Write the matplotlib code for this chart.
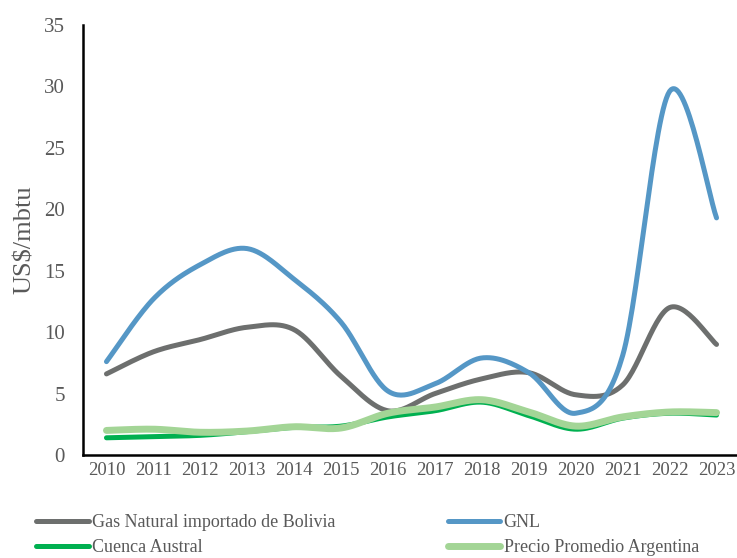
import numpy as np
import matplotlib
matplotlib.use("Agg")
import matplotlib.pyplot as plt

years = ["2010", "2011", "2012", "2013", "2014", "2015", "2016",
         "2017", "2018", "2019", "2020", "2021", "2022", "2023"]
bolivia = [6.6, 8.4, 9.4, 10.4, 10.2, 6.4, 3.6, 5.0, 6.2, 6.7, 4.9, 5.7, 12.0, 9.0]
gnl = [7.6, 12.7, 15.5, 16.8, 14.3, 10.8, 5.2, 5.8, 7.9, 6.7, 3.4, 8.1, 29.6, 19.3]
austral = [1.4, 1.5, 1.6, 1.9, 2.25, 2.35, 3.1, 3.6, 4.3, 3.2, 2.1, 3.0, 3.4, 3.25]
promedio = [2.0, 2.1, 1.85, 1.95, 2.3, 2.2, 3.4, 3.9, 4.5, 3.5, 2.35, 3.1, 3.5, 3.45]
yticks = [0, 5, 10, 15, 20, 25, 30, 35]

labels = ["Gas Natural importado de Bolivia", "GNL", "Cuenca Austral",
          "Precio Promedio Argentina"]
colors = ["#6d6f6e", "#5597c6", "#00b050", "#a3d596"]
widths = [3.6, 3.6, 3.6, 5.0]


def smooth(y, n=30):
    """Excel-like smoothed line (Catmull-Rom Bezier)."""
    x = np.arange(len(y), dtype=float)
    y = np.asarray(y, dtype=float)
    P = np.column_stack([x, y])
    out = []
    t = np.linspace(0, 1, n)[:, None]
    for i in range(len(P) - 1):
        p0 = P[i - 1] if i > 0 else P[i]
        p1 = P[i]
        p2 = P[i + 1]
        p3 = P[i + 2] if i + 2 < len(P) else P[i + 1]
        c1 = p1 + (p2 - p0) / 6.0
        c2 = p2 - (p3 - p1) / 6.0
        seg = ((1 - t) ** 3) * p1 + 3 * ((1 - t) ** 2) * t * c1 + 3 * (1 - t) * t ** 2 * c2 + t ** 3 * p2
        out.append(seg if i == 0 else seg[1:])
    arr = np.vstack(out)
    return arr[:, 0], arr[:, 1]


plt.rcParams['font.family'] = ['Liberation Serif', 'DejaVu Serif']
fig = plt.figure(figsize=(7.37, 5.58), dpi=100)
ax = fig.add_axes([83 / 737, (558 - 455) / 558, 657 / 737, 430 / 558])

handles = []
for data, c, w, lab in zip([bolivia, gnl, austral, promedio], colors, widths, labels):
    xs, ys = smooth(data)
    h, = ax.plot(xs, ys, color=c, lw=w, solid_capstyle='round', label=lab)
    handles.append(h)

ax.set_xlim(-0.5, len(years) - 0.5)
ax.set_ylim(0, 35)
ax.set_xticks(range(len(years)))
ax.set_xticklabels(years)
ax.set_yticks(yticks)
ax.tick_params(axis='both', length=0, colors='#595959')
ax.tick_params(axis='x', labelsize=13.5, pad=5)
ax.tick_params(axis='y', labelsize=15, pad=13)
for s in ['top', 'right']:
    ax.spines[s].set_visible(False)
for s in ['left', 'bottom']:
    ax.spines[s].set_linewidth(1.8)
    ax.spines[s].set_color('black')
ax.set_ylabel("US$/mbtu", fontsize=19, color='#595959', labelpad=6)

order = [0, 2, 1, 3]
fig.legend([handles[i] for i in order], [labels[i] for i in order],
           ncol=2, loc='upper left', bbox_to_anchor=(20 / 737, 1 - 498 / 558),
           frameon=False, fontsize=13, handlelength=2.9, handletextpad=0.2,
           columnspacing=6.2, labelspacing=0.42, labelcolor='#595959')

fig.savefig("out.png", dpi=100)
